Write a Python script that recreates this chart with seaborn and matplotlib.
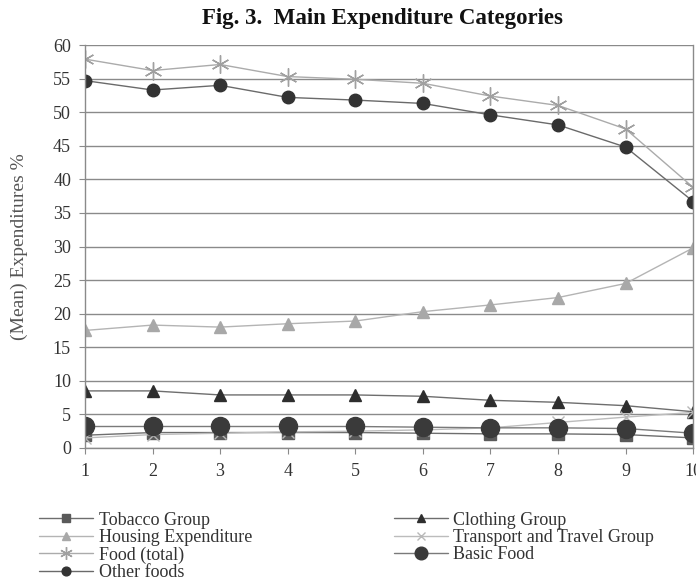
"""Fig. 3 - main expenditure categories by decile (grayscale line chart)."""

import matplotlib

matplotlib.use("Agg")
import matplotlib.pyplot as plt
import pandas as pd
import seaborn as sns

sns.set_theme(style="white")
plt.rcParams["font.family"] = ["Liberation Serif", "DejaVu Serif"]

deciles = [1, 2, 3, 4, 5, 6, 7, 8, 9, 10]

tobacco = [1.9, 2.3, 2.3, 2.3, 2.3, 2.2, 2.1, 2.1, 2.0, 1.5]
clothing = [8.5, 8.5, 7.9, 7.9, 7.9, 7.7, 7.1, 6.8, 6.3, 5.4]
housing = [17.5, 18.3, 18.0, 18.5, 18.9, 20.3, 21.3, 22.4, 24.5, 29.8]
transport = [1.5, 2.0, 2.2, 2.4, 2.5, 2.7, 3.0, 3.8, 4.6, 5.3]
food_total = [57.9, 56.2, 57.1, 55.3, 54.9, 54.3, 52.4, 51.0, 47.5, 38.8]
basic_food = [3.2, 3.2, 3.2, 3.2, 3.2, 3.1, 3.0, 3.0, 2.9, 2.2]
other_foods = [54.7, 53.3, 54.0, 52.2, 51.8, 51.3, 49.6, 48.1, 44.8, 36.7]

series = {
    "Tobacco Group": tobacco,
    "Clothing Group": clothing,
    "Housing Expenditure": housing,
    "Transport and Travel Group": transport,
    "Food (total)": food_total,
    "Basic Food": basic_food,
    "Other foods": other_foods,
}

# marker, marker size, marker colour, line colour
styles = {
    "Tobacco Group": ("s", 8, "#5a5a5a", "#6e6e6e"),
    "Clothing Group": ("^", 8, "#2e2e2e", "#6e6e6e"),
    "Housing Expenditure": ("^", 9, "#a8a8a8", "#b4b4b4"),
    "Transport and Travel Group": ("x", 9, "#b8b8b8", "#bcbcbc"),
    "Food (total)": ((6, 2, 0), 13, "#a0a0a0", "#ababab"),
    "Basic Food": ("o", 13, "#3a3a3a", "#7a7a7a"),
    "Other foods": ("o", 9, "#333333", "#6a6a6a"),
}

df = pd.DataFrame(
    [
        {"DECIL": d, "SERIE": name, "VALOR": v}
        for name, vals in series.items()
        for d, v in zip(deciles, vals)
    ]
)

fig = plt.figure(figsize=(6.96, 5.8), dpi=100)
ax = fig.add_axes([0.122, 0.2276, 0.874, 0.6948])

handles = {}
for name in series:
    marker, ms, mcol, lcol = styles[name]
    sub = df[df["SERIE"] == name]
    sns.lineplot(
        data=sub,
        x="DECIL",
        y="VALOR",
        color=lcol,
        linewidth=1.0,
        marker=marker,
        markersize=ms,
        markerfacecolor=mcol,
        markeredgecolor=mcol,
        markeredgewidth=1.0,
        ax=ax,
        label=name,
        legend=False,
    )
    handles[name] = ax.lines[-1]

ax.set_xlim(1, 10)
ax.set_ylim(0, 60)
ax.set_xticks(deciles)
ax.set_yticks(range(0, 61, 5))
ax.yaxis.grid(True, color="#8a8a8a", linewidth=1.0)
ax.xaxis.grid(False)
ax.set_axisbelow(True)
for side in ["left", "right", "bottom"]:
    ax.spines[side].set_color("#8a8a8a")
    ax.spines[side].set_linewidth(1.0)
ax.spines["top"].set_visible(False)
ax.tick_params(
    axis="both",
    which="major",
    direction="out",
    length=4,
    width=0.8,
    color="#8a8a8a",
    labelsize=13,
    labelcolor="#333333",
    bottom=True,
    left=True,
)
ax.tick_params(axis="x", pad=7)
ax.tick_params(axis="y", pad=6)
ax.set_xlabel("")
ax.set_ylabel("(Mean) Expenditures %", fontsize=14, color="#555555", labelpad=18)

fig.text(
    0.549,
    0.968,
    "Fig. 3.  Main Expenditure Categories",
    ha="center",
    va="center",
    fontsize=16.5,
    fontweight="bold",
    color="#111111",
)

order = [
    "Tobacco Group",
    "Housing Expenditure",
    "Food (total)",
    "Other foods",
    "Clothing Group",
    "Transport and Travel Group",
    "Basic Food",
]
leg = fig.legend(
    [handles[n] for n in order],
    order,
    ncol=2,
    loc="upper left",
    bbox_to_anchor=(0.056, 0.118),
    frameon=False,
    fontsize=13,
    markerscale=0.7,
    handlelength=3.0,
    handletextpad=0.3,
    labelspacing=0.02,
    columnspacing=7.85,
    borderaxespad=0,
    borderpad=0,
)
for t in leg.get_texts():
    t.set_color("#333333")

fig.savefig("out.png", dpi=100)
